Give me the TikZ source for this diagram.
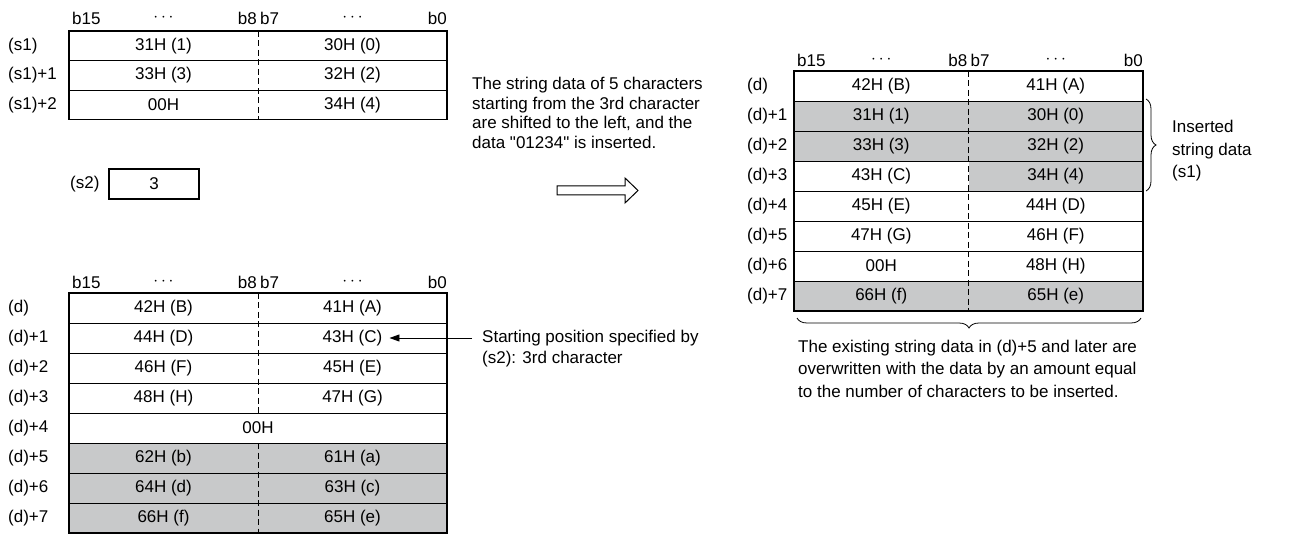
\documentclass[tikz,border=0pt]{standalone}
\usepackage{fontspec}
\setmainfont{Liberation Sans}
\usepackage{tikz}
\usetikzlibrary{arrows.meta, decorations.pathreplacing}
\definecolor{cellgray}{RGB}{200,201,202}

\begin{document}
\begin{tikzpicture}[x=1pt, y=-1pt, font=\fontsize{17}{21}\selectfont,
    frame/.style={line width=1.8pt},
    rowline/.style={line width=0.9pt},
    bytedash/.style={line width=0.9pt, dash pattern=on 6pt off 3.5pt},
    celltext/.style={inner sep=0pt},
    bitlbl/.style={inner sep=0pt},
    addrlbl/.style={anchor=west, inner sep=0pt},
    note/.style={align=left, anchor=west, inner sep=0pt},
    widenote/.style={note, font=\fontsize{17}{22.5}\selectfont},
    pointer/.style={-{Triangle[length=10pt, width=7pt]}, line width=0.9pt, shorten >=7pt}]
  \useasboundingbox (0,0) rectangle (1306,534);

  % bit headers of the three tables
  \foreach \t/\l/\m/\r/\y in {s1/69/258/447/18, dl/69/258/447/282, dr/794/968.5/1143/60} {
    \node[bitlbl, anchor=west] (\t-b15) at (\l+3,\y) {b15};
    \node[bitlbl] (\t-dotshi) at ({(\l+\m)/2},\y) {$\cdots$};
    \node[bitlbl, anchor=east] (\t-b8) at (\m-1,\y) {b8};
    \node[bitlbl, anchor=west] (\t-b7) at (\m+2,\y) {b7};
    \node[bitlbl] (\t-dotslo) at ({(\m+\r)/2},\y) {$\cdots$};
    \node[bitlbl, anchor=east] (\t-b0) at (\r,\y) {b0};
  }

  % (s1): string to insert
  \draw[rowline] (69,60.5) -- (447,60.5) (69,90) -- (447,90);
  \draw[bytedash] (258,31) -- (258,119.5);
  \draw[frame] (69,31) rectangle (447,119.5);
  \foreach \i/\hi/\lo in {0/31H (1)/30H (0), 1/33H (3)/32H (2), 2/00H/34H (4)} {
    \node[addrlbl] (s1-\i-adr) at (8,45.75+29.5*\i) {(s1)\ifnum\i>0 +\i\fi};
    \node[celltext] (s1-\i-hi) at (163.5,45.75+29.5*\i) {\hi};
    \node[celltext] (s1-\i-lo) at (352.5,45.75+29.5*\i) {\lo};
  }

  % (s2): start position
  \node[addrlbl] (s2-adr) at (70,184) {(s2)};
  \node[draw, frame, minimum width=90pt, minimum height=30pt, inner sep=0pt] (s2box) at (154,184) {3};

  % (d) before execution
  \fill[cellgray] (69,443) rectangle (447,533);
  \foreach \yy in {323,353,...,503} \draw[rowline] (69,\yy) -- (447,\yy);
  \draw[bytedash] (258,293) -- (258,413) (258,443) -- (258,533);
  \draw[frame] (69,293) rectangle (447,533);
  \foreach \i in {0,...,7}
    \node[addrlbl] (dl-\i-adr) at (8,308+30*\i) {(d)\ifnum\i>0 +\i\fi};
  \foreach \i/\hi/\lo in {0/42H (B)/41H (A), 1/44H (D)/43H (C), 2/46H (F)/45H (E), 3/48H (H)/47H (G),
      5/62H (b)/61H (a), 6/64H (d)/63H (c), 7/66H (f)/65H (e)} {
    \node[celltext] (dl-\i-hi) at (163.5,308+30*\i) {\hi};
    \node[celltext] (dl-\i-lo) at (352.5,308+30*\i) {\lo};
  }
  \node[celltext] (dl-4) at (258,428) {00H};

  \node[note, inner xsep=10pt] (startpos) at (472,348.5) {Starting position specified by\\(s2): 3rd character};
  \draw[pointer] (startpos.west |- dl-1-lo) -- (dl-1-lo.east);

  % middle explanation and hollow arrow
  \node[note, font=\fontsize{17}{19.5}\selectfont] (shiftnote) at (472,113)
    {The string data of 5 characters\\starting from the 3rd character\\are shifted to the left, and the\\data \textquotedbl 01234\textquotedbl{} is inserted.};
  \draw[line width=1pt] (557,186) -- (625,186) -- (625,178) -- (638,190.5) -- (625,203) -- (625,195) -- (557,195) -- cycle;

  % (d) after execution
  \fill[cellgray] (794,101) rectangle (1143,161);
  \fill[cellgray] (968.5,161) rectangle (1143,191);
  \fill[cellgray] (794,281) rectangle (1143,311);
  \foreach \yy in {101,131,...,281} \draw[rowline] (794,\yy) -- (1143,\yy);
  \draw[bytedash] (968.5,71) -- (968.5,311);
  \draw[frame] (794,71) rectangle (1143,311);
  \foreach \i/\hi/\lo in {0/42H (B)/41H (A), 1/31H (1)/30H (0), 2/33H (3)/32H (2), 3/43H (C)/34H (4),
      4/45H (E)/44H (D), 5/47H (G)/46H (F), 6/00H/48H (H), 7/66H (f)/65H (e)} {
    \node[addrlbl] (dr-\i-adr) at (747,86+30*\i) {(d)\ifnum\i>0 +\i\fi};
    \node[celltext] (dr-\i-hi) at (881.25,86+30*\i) {\hi};
    \node[celltext] (dr-\i-lo) at (1055.75,86+30*\i) {\lo};
  }

  % braces
  \draw[decorate, decoration={brace, amplitude=10pt}, line width=0.8pt] (1146,99) -- (1146,191);
  \node[widenote] (insnote) at (1172,151) {Inserted\\string data\\(s1)};
  \draw[decorate, decoration={brace, amplitude=10pt}, line width=0.8pt] (1141,318) -- (797,318);
  \node[widenote] (overnote) at (798,368.5) {The existing string data in (d)+5 and later are\\overwritten with the data by an amount equal\\to the number of characters to be inserted.};
\end{tikzpicture}
\end{document}
